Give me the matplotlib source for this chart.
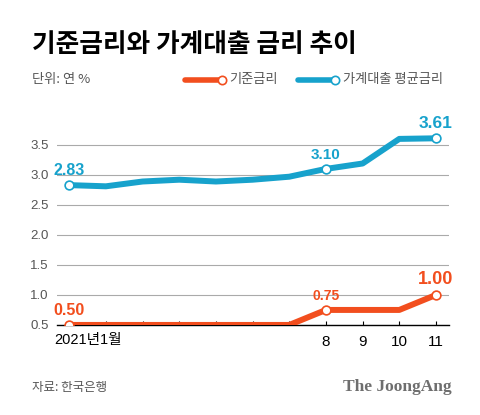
import matplotlib
matplotlib.use("Agg")
import matplotlib.pyplot as plt

plt.rcParams['font.family'] = ['Noto Sans CJK KR', 'DejaVu Sans']

months = [1, 2, 3, 4, 5, 6, 7, 8, 9, 10, 11]
base_rate = [0.50, 0.50, 0.50, 0.50, 0.50, 0.50, 0.50, 0.75, 0.75, 0.75, 1.00]
loan_rate = [2.83, 2.81, 2.89, 2.92, 2.89, 2.92, 2.97, 3.10, 3.19, 3.60, 3.61]
xtick_pos = [1, 8, 9, 10, 11]
xtick_labels = ["2021년1월", "8", "9", "10", "11"]
yticks = [0.5, 1.0, 1.5, 2.0, 2.5, 3.0, 3.5]
ytick_labels = ["0.5", "1.0", "1.5", "2.0", "2.5", "3.0", "3.5"]
marked_idx = [0, 7, 10]

ORANGE = "#f24e1e"
BLUE = "#17a2cc"

fig = plt.figure(figsize=(4.8, 4.15), dpi=100)
ax = fig.add_axes([0.119, 0.217, 0.816, 0.47])

ax.plot(months, loan_rate, color=BLUE, lw=4.3, solid_capstyle='butt', zorder=3)
ax.plot(months, base_rate, color=ORANGE, lw=4.3, solid_capstyle='butt', zorder=3)
for i in marked_idx:
    ax.plot(months[i], loan_rate[i], 'o', ms=6.3, mfc='white', mec=BLUE, mew=1.2, zorder=4)
    ax.plot(months[i], base_rate[i], 'o', ms=6.3, mfc='white', mec=ORANGE, mew=1.2, zorder=4)

# data labels
blue_sizes = {0: 11.5, 7: 11, 10: 12.5}
orange_sizes = {0: 11.5, 7: 10, 10: 13}
for i in marked_idx:
    ax.annotate(f"{loan_rate[i]:.2f}", (months[i], loan_rate[i]), xytext=(0, 5),
                textcoords='offset points', ha='center', va='bottom',
                color=BLUE, fontsize=blue_sizes[i], fontweight='bold', family='Liberation Sans')
    ax.annotate(f"{base_rate[i]:.2f}", (months[i], base_rate[i]), xytext=(0, 5),
                textcoords='offset points', ha='center', va='bottom',
                color=ORANGE, fontsize=orange_sizes[i], fontweight='bold', family='Liberation Sans')

ax.set_xlim(0.67, 11.35)
ax.set_ylim(0.5, 3.75)
ax.set_yticks(yticks)
ax.set_yticklabels(ytick_labels, family='Liberation Sans', fontsize=9.5, color='#555555')
ax.yaxis.grid(True, color='#aaaaaa', lw=0.8)
ax.set_axisbelow(True)
for s in ['top', 'right', 'left']:
    ax.spines[s].set_visible(False)
ax.spines['bottom'].set_color('black')
ax.spines['bottom'].set_linewidth(1.0)
ax.tick_params(axis='y', length=0, pad=6)

ax.set_xticks(months)
ax.set_xticklabels([""] * len(months))
ax.tick_params(axis='x', direction='in', length=3, width=0.8, color='black')
for p, l in zip(xtick_pos, xtick_labels):
    if p == 1:
        ax.annotate(l, (p, 0.5), xytext=(-11, -6), textcoords='offset points',
                    ha='left', va='top', fontsize=10.5, color='black',
                    family=['Liberation Sans', 'Noto Sans CJK KR'])
    else:
        ax.annotate(l, (p, 0.5), xytext=(0, -7), textcoords='offset points',
                    ha='center', va='top', fontsize=11, color='black', family='Liberation Sans')

# Title and header
fig.text(32/480, 1-45/415, "기준금리와 가계대출 금리 추이", fontsize=18.5, fontweight='black',
         ha='left', va='center', color='black')
fig.text(32/480, 1-80/415, "단위: 연 %", fontsize=9.5, ha='left', va='center', color='#555555')

# legend
ly = 1 - 80/415
fig.add_artist(plt.Line2D([185/480, 221/480], [ly, ly], color=ORANGE, lw=4, transform=fig.transFigure,
                          solid_capstyle='round'))
fig.add_artist(plt.Line2D([222/480], [ly], marker='o', ms=6, mfc='white', mec=ORANGE, mew=1.2,
                          transform=fig.transFigure))
fig.text(229/480, ly, "기준금리", fontsize=9.5, ha='left', va='center', color='#555555')
fig.add_artist(plt.Line2D([298/480, 334/480], [ly, ly], color=BLUE, lw=4, transform=fig.transFigure,
                          solid_capstyle='round'))
fig.add_artist(plt.Line2D([335/480], [ly], marker='o', ms=6, mfc='white', mec=BLUE, mew=1.2,
                          transform=fig.transFigure))
fig.text(343/480, ly, "가계대출 평균금리", fontsize=9.5, ha='left', va='center', color='#555555')

# footer
fig.text(32/480, 1-387/415, "자료: 한국은행", fontsize=9, ha='left', va='center', color='#555555')
fig.text(452/480, 1-387/415, "The JoongAng", fontsize=12.5, ha='right', va='center', color='#6e6e6e',
         family='Liberation Serif', fontweight='bold')

fig.savefig("out.png", dpi=100, facecolor='white')
